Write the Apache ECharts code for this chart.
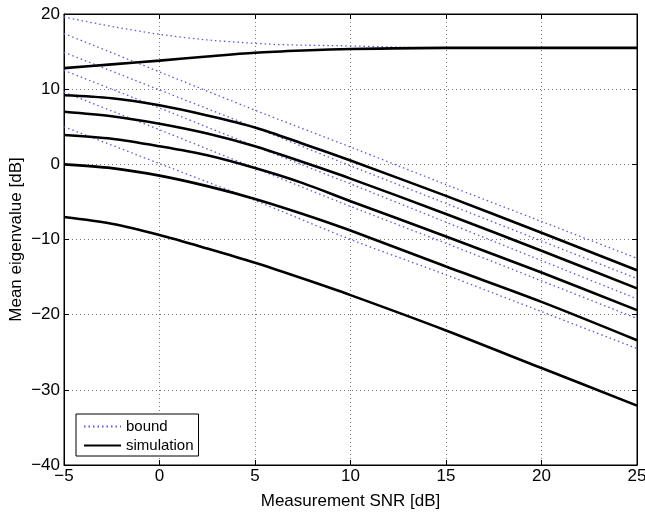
<!DOCTYPE html>
<html>
<head>
<meta charset="utf-8">
<script src="https://cdn.jsdelivr.net/npm/echarts@6/dist/echarts.min.js"></script>
<style>
html,body{margin:0;padding:0;background:#fff;}
#chart{width:645px;height:515px;}
</style>
</head>
<body>
<div id="chart"></div>
<script>
// Data
const snrSim   = [-5, -2.5, 0, 2.5, 5, 7.5, 10, 15, 20, 25];
const snrBound = [-5, 0, 5, 10, 15, 20, 25];
const xTicks = [-5, 0, 5, 10, 15, 20, 25];
const yTicks = [-40, -30, -20, -10, 0, 10, 20];

const sim1 = [12.8, 13.3, 13.8, 14.35, 14.85, 15.15, 15.35, 15.5, 15.5, 15.5];
const sim2 = [9.2, 8.8, 7.85, 6.5, 4.9, 2.75, 0.5, -4.2, -9.1, -14.1];
const sim3 = [7.0, 6.4, 5.4, 4.1, 2.4, 0.3, -1.9, -6.6, -11.5, -16.5];
const sim4 = [3.9, 3.4, 2.4, 1.2, -0.5, -2.5, -4.9, -9.6, -14.4, -19.4];
const sim5 = [0.0, -0.5, -1.5, -2.9, -4.6, -6.6, -8.8, -13.6, -18.3, -23.4];
const sim6 = [-7.0, -7.9, -9.4, -11.2, -13.1, -15.2, -17.4, -22.1, -27.1, -32.1];

const bnd1 = [19.6, 17.3, 16.1, 15.75, 15.5, 15.5, 15.5];
const bnd2 = [17.4, 12.3, 7.2, 2.3, -2.7, -7.6, -12.5];
const bnd3 = [14.9, 9.9, 4.9, -0.2, -5.2, -10.2, -15.2];
const bnd4 = [12.5, 7.5, 2.4, -2.6, -7.7, -12.8, -17.9];
const bnd5 = [9.6, 4.6, -0.5, -5.6, -10.5, -15.5, -20.5];
const bnd6 = [5.0, 0.1, -4.8, -10.0, -14.7, -19.6, -24.5];

const sims = [sim1, sim2, sim3, sim4, sim5, sim6];
const bnds = [bnd1, bnd2, bnd3, bnd4, bnd5, bnd6];

const pairs = (xs, vals) => xs.map((x, i) => [x, vals[i]]);
const fmt = v => (v < 0 ? '\u2212' + Math.abs(v) : String(v));
const FONT = 'Liberation Sans, Arial, sans-serif';

const series = [];
bnds.forEach((b, k) => series.push({
  name: 'bound', type: 'line', data: pairs(snrBound, b), smooth: k === 0 ? 0.4 : 0.2,
  symbol: 'none', z: 2,
  lineStyle: { color: '#5a5ad8', width: 1.3, type: [1.5, 3] },
  itemStyle: { color: '#5a5ad8' }
}));
sims.forEach(s => series.push({
  name: 'simulation', type: 'line', data: pairs(snrSim, s), smooth: 0.3,
  symbol: 'none', z: 3,
  lineStyle: { color: '#000', width: 2.6, type: 'solid' },
  itemStyle: { color: '#000' }
}));

const chart = echarts.init(document.getElementById('chart'), null, { renderer: 'canvas' });
const gridLine = { show: true, lineStyle: { color: '#7a7a7a', width: 1, type: [1, 3] } };
chart.setOption({
  animation: false,
  backgroundColor: '#fff',
  textStyle: { fontFamily: FONT },
  grid: { left: 64, right: 8, top: 14, bottom: 50, show: true, borderColor: '#000', borderWidth: 1,
          containLabel: false, outerBoundsMode: 'none' },
  legend: {
    data: ['bound', 'simulation'],
    orient: 'vertical', left: 76, top: 414,
    backgroundColor: '#fff', borderColor: '#000', borderWidth: 1,
    padding: [5, 5, 3, 7], itemGap: 4, itemWidth: 37, itemHeight: 14,
    itemStyle: { opacity: 0 },
    textStyle: { fontSize: 15, fontFamily: FONT, color: '#000' }
  },
  xAxis: [{
    type: 'value', min: -5, max: 25, interval: 5,
    name: 'Measurement SNR [dB]', nameLocation: 'middle', nameGap: 28, nameMoveOverlap: false,
    nameTextStyle: { fontSize: 17, color: '#000', fontFamily: FONT },
    axisLine: { show: true, onZero: false, lineStyle: { color: '#000', width: 1 } },
    axisTick: { show: true, inside: true, length: 5, lineStyle: { color: '#000' } },
    axisLabel: { color: '#000', fontSize: 17, margin: 3, hideOverlap: false, formatter: v => xTicks.includes(v) ? fmt(v) : '' },
    splitLine: gridLine
  }, {
    type: 'value', min: -5, max: 25, interval: 5, position: 'top',
    axisLine: { show: true, onZero: false, lineStyle: { color: '#000' } },
    axisTick: { show: true, inside: true, length: 5, lineStyle: { color: '#000' } },
    axisLabel: { show: false }, splitLine: { show: false }
  }],
  yAxis: [{
    type: 'value', min: -40, max: 20, interval: 10,
    name: 'Mean eigenvalue [dB]', nameLocation: 'middle', nameGap: 39, nameMoveOverlap: false,
    nameTextStyle: { fontSize: 17, color: '#000', fontFamily: FONT },
    axisLine: { show: true, onZero: false, lineStyle: { color: '#000', width: 1 } },
    axisTick: { show: true, inside: true, length: 5, lineStyle: { color: '#000' } },
    axisLabel: { color: '#000', fontSize: 17, margin: 4, formatter: v => yTicks.includes(v) ? fmt(v) : '' },
    splitLine: gridLine
  }, {
    type: 'value', min: -40, max: 20, interval: 10, position: 'right',
    axisLine: { show: true, onZero: false, lineStyle: { color: '#000' } },
    axisTick: { show: true, inside: true, length: 5, lineStyle: { color: '#000' } },
    axisLabel: { show: false }, splitLine: { show: false }
  }],
  series: series
});
</script>
</body>
</html>
